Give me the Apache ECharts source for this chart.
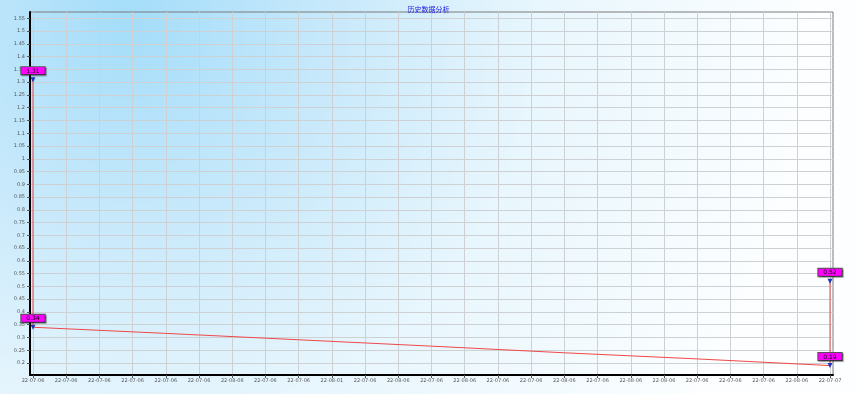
<!DOCTYPE html>
<html>
<head>
<meta charset="utf-8">
<script src="https://cdn.jsdelivr.net/npm/echarts@6/dist/echarts.min.js"></script>
<style>html,body{margin:0;padding:0;}#c{width:857px;height:394px;}</style>
</head>
<body>
<div id="c"></div>
<script>
const titleText = '历史数据分析';
const xLabels = ['22-07-06','22-07-06','22-07-06','22-07-06','22-07-06','22-07-06','22-08-06','22-07-06','22-07-06','22-08-01','22-07-06','22-08-06','22-07-06','22-08-06','22-07-06','22-07-06','22-08-06','22-07-06','22-08-06','22-08-06','22-07-06','22-07-06','22-07-06','22-08-06','22-07-07'];
const yTicks = [0.2,0.25,0.3,0.35,0.4,0.45,0.5,0.55,0.6,0.65,0.7,0.75,0.8,0.85,0.9,0.95,1,1.05,1.1,1.15,1.2,1.25,1.3,1.35,1.4,1.45,1.5,1.55];
const seriesX = [0, 0, 4, 8, 12, 16, 20, 24, 24];
const seriesY = [1.31, 0.34, 0.316, 0.291, 0.266, 0.240, 0.216, 0.19, 0.52];
const markIdx = [0, 1, 8, 7];
const markLabels = ['1.31', '0.34', '0.52', '0.19'];

const xTickVals = xLabels.map((_, i) => i);
const chart = echarts.init(document.getElementById('c'));
const W = 857, H = 394;
chart.setOption({
  animation: false,
  graphic: [{
    type: 'rect', z: -10, silent: true,
    shape: { x: 0, y: 0, width: W, height: H },
    style: { fill: new echarts.graphic.RadialGradient(130, 20, 680, [
      { offset: 0, color: '#a4ddfa' },
      { offset: 0.3, color: '#c8e9fb' },
      { offset: 0.6, color: '#e8f6fd' },
      { offset: 1, color: '#fcfeff' }
    ], true) }
  }],
  title: {
    text: titleText, left: 'center', top: 1,
    textStyle: { fontSize: 7, fontWeight: 'normal', color: '#1a1ae6', fontFamily: 'Noto Sans CJK SC' }
  },
  grid: { left: 30, right: 24, top: 12, bottom: 19, show: true, borderColor: '#7a7a7a', borderWidth: 1, backgroundColor: 'transparent' },
  xAxis: {
    type: 'value', min: -0.09, max: 24.09,
    axisLine: { show: true, onZero: false, lineStyle: { color: '#000', width: 2 } },
    axisTick: { show: true, customValues: xTickVals, length: 3, lineStyle: { color: '#555' } },
    axisLabel: { customValues: xTickVals, fontSize: 5, color: '#555', margin: 3, fontFamily: 'DejaVu Sans', formatter: v => xLabels[Math.round(v)] },
    splitLine: { show: true, lineStyle: { color: '#cdd1d3', width: 1 } }
  },
  yAxis: {
    type: 'value', min: 0.153, max: 1.575,
    axisLine: { show: true, onZero: false, lineStyle: { color: '#000', width: 2 } },
    axisTick: { show: true, customValues: yTicks, length: 3, lineStyle: { color: '#555' } },
    axisLabel: { customValues: yTicks, fontSize: 5, color: '#555', margin: 5, fontFamily: 'DejaVu Sans', formatter: v => String(+v.toFixed(2)) },
    splitLine: { show: true, lineStyle: { color: '#cdd1d3', width: 1 } }
  },
  series: [{
    type: 'line',
    data: seriesX.map((x, i) => [x, seriesY[i]]),
    showSymbol: false,
    lineStyle: { color: '#f04848', width: 1 },
    markPoint: {
      symbol: 'triangle', symbolSize: 5, symbolRotate: 180,
      itemStyle: { color: '#2233bb' },
      label: {
        show: true, position: 'top', distance: 3,
        backgroundColor: '#ff00ff', borderColor: '#555', borderWidth: 1,
        padding: [1, 5, 0, 5], fontSize: 6, color: '#000', fontFamily: 'DejaVu Sans',
        shadowColor: 'rgba(0,0,0,0.4)', shadowOffsetX: 1, shadowOffsetY: 1, shadowBlur: 1
      },
      data: markIdx.map((k, j) => ({ coord: [seriesX[k], seriesY[k]], value: markLabels[j] }))
    }
  }]
});
</script>
</body>
</html>
